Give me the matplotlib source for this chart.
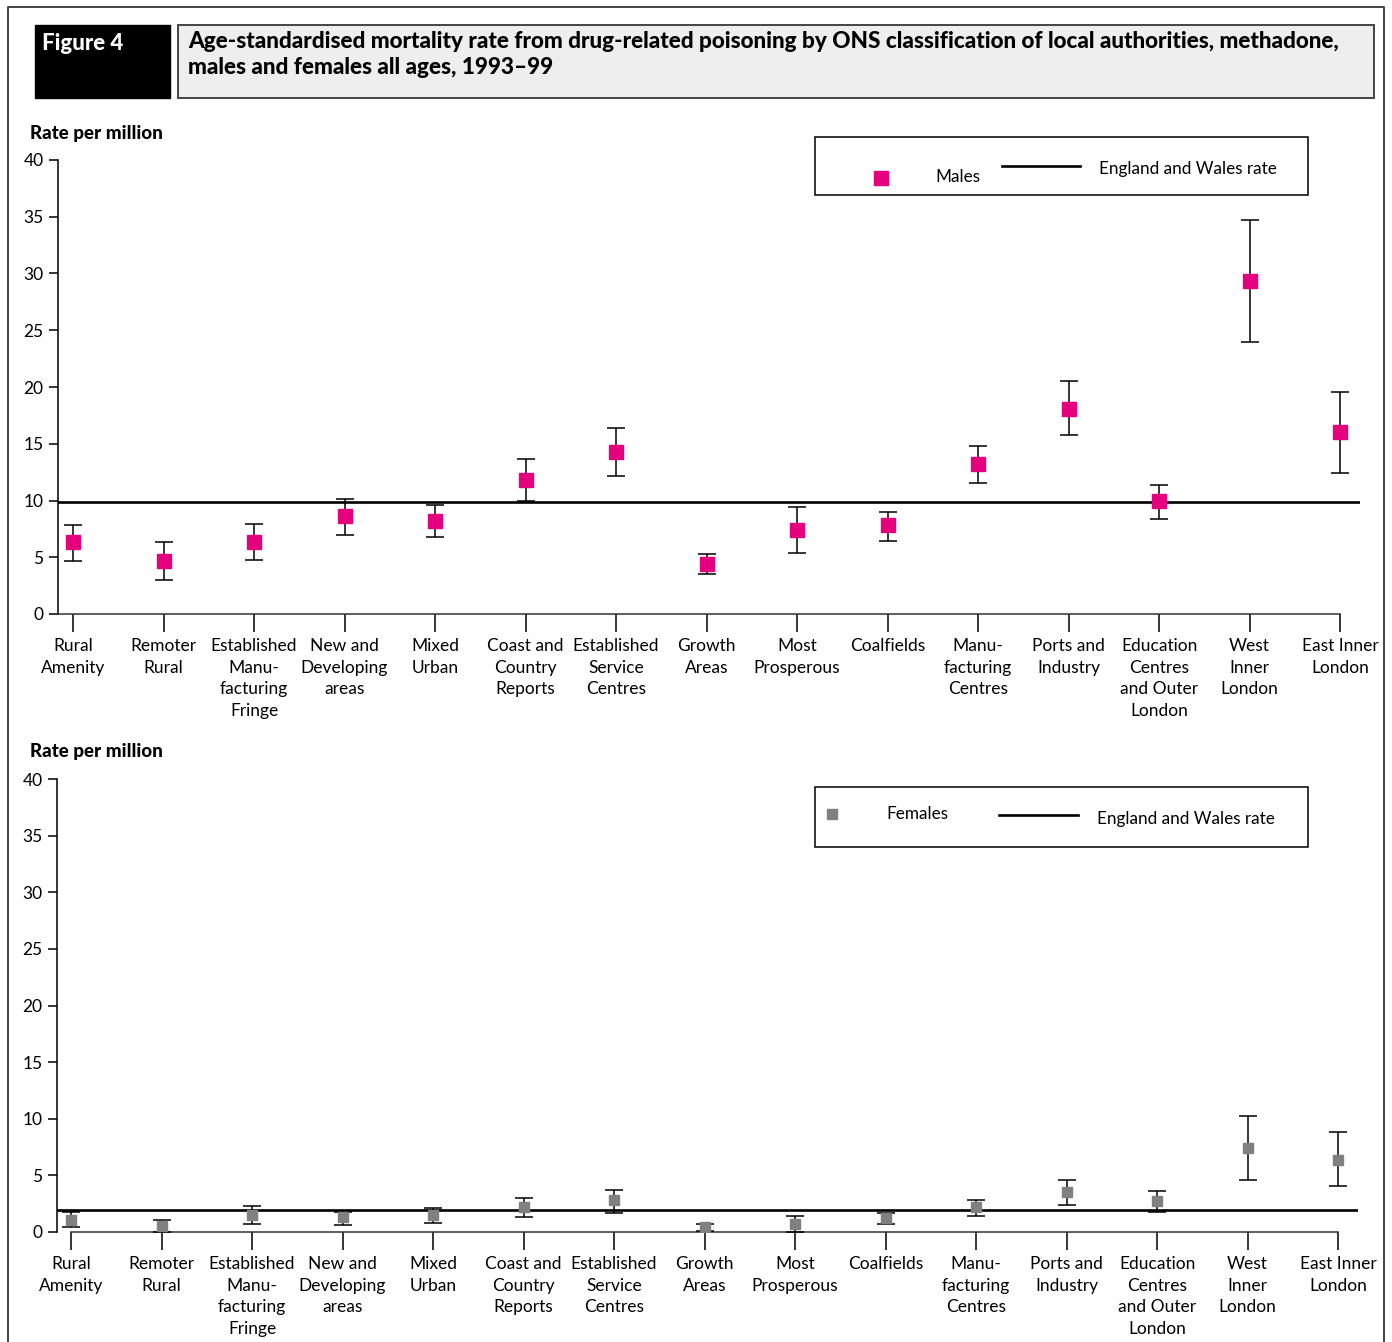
import matplotlib.pyplot as plt
from matplotlib.patches import Rectangle
from matplotlib.lines import Line2D

plt.rcParams['font.family'] = ['Lato', 'DejaVu Sans']

W, H = 1392, 1342

areas = ["Rural\nAmenity", "Remoter\nRural", "Established\nManu-\nfacturing\nFringe",
         "New and\nDeveloping\nareas", "Mixed\nUrban", "Coast and\nCountry\nReports",
         "Established\nService\nCentres", "Growth\nAreas", "Most\nProsperous",
         "Coalfields", "Manu-\nfacturing\nCentres", "Ports and\nIndustry",
         "Education\nCentres\nand Outer\nLondon", "West\nInner\nLondon", "East Inner\nLondon"]

# rates per million with 95% confidence limits
male_rate = [6.3, 4.7, 6.3, 8.6, 8.2, 11.8, 14.3, 4.4, 7.4, 7.8, 13.2, 18.1, 10.0, 29.3, 16.0]
male_low = [4.7, 3.0, 4.8, 7.0, 6.8, 10.0, 12.2, 3.5, 5.4, 6.4, 11.5, 15.8, 8.4, 24.0, 12.4]
male_high = [7.8, 6.3, 7.9, 10.1, 9.6, 13.7, 16.4, 5.3, 9.4, 9.0, 14.8, 20.5, 11.4, 34.7, 19.6]

female_rate = [1.1, 0.5, 1.5, 1.3, 1.5, 2.2, 2.8, 0.4, 0.7, 1.2, 2.2, 3.5, 2.7, 7.4, 6.4]
female_low = [0.4, 0.0, 0.7, 0.6, 0.8, 1.3, 1.7, 0.1, 0.0, 0.7, 1.4, 2.4, 1.8, 4.6, 4.1]
female_high = [1.8, 1.1, 2.3, 1.8, 2.1, 3.0, 3.7, 0.7, 1.4, 1.7, 2.8, 4.6, 3.6, 10.2, 8.8]

ew_male = 9.9
ew_female = 1.9

male_colour = "#e5007d"
female_colour = "#808080"


def px(x, y):
    return x / W, 1 - y / H


fig = plt.figure(figsize=(W / 100, H / 100), dpi=100)

# outer frame
fig.add_artist(Line2D([8 / W, 8 / W, 1384 / W, 1384 / W], [0, 1 - 7 / H, 1 - 7 / H, 0],
                      transform=fig.transFigure, color="#444444", lw=1.4))

# header boxes
fig.add_artist(Rectangle(px(35, 98), 135 / W, 73 / H, transform=fig.transFigure,
                         facecolor="black", edgecolor="black"))
fig.text(*px(42, 43), "Figure 4", color="white", fontsize=16, fontweight="black", va="center")
fig.add_artist(Rectangle(px(178, 98), 1196 / W, 73 / H, transform=fig.transFigure,
                         facecolor="#eeeeee", edgecolor="#444444", lw=1.4))
fig.text(*px(188, 31), "Age-standardised mortality rate from drug-related poisoning by ONS classification of local authorities, methadone,\nmales and females all ages, 1993\u201399",
         fontsize=16.2, fontweight="black", va="top", linespacing=1.32)


def panel(rect, xlim, rate, low, high, ew, colour, msize, full_xaxis, ylabel_y):
    ax = fig.add_axes(rect)
    xs = list(range(len(rate)))
    yerr = [[r - lo for r, lo in zip(rate, low)], [hi - r for r, hi in zip(rate, high)]]
    ax.axhline(ew, color="black", lw=1.9, zorder=1)
    ax.errorbar(xs, rate, yerr=yerr, fmt="s", color=colour, ms=msize, mec=colour,
                ecolor="black", elinewidth=1.1, capsize=6.5, capthick=1.1, zorder=3)
    ax.set_xlim(*xlim)
    ax.set_ylim(0, 40)
    ax.set_yticks(range(0, 41, 5))
    ax.set_xticks(xs)
    ax.set_xticklabels(areas, fontsize=12.5, linespacing=1.42)
    for sp in ["top", "right"]:
        ax.spines[sp].set_visible(False)
    ax.spines["left"].set_linewidth(1.1)
    ax.spines["bottom"].set_linewidth(1.1)
    ax.spines["bottom"].set_color("#333333")
    if full_xaxis:
        ax.spines["bottom"].set_bounds(xlim[0], 14)
    else:
        ax.spines["bottom"].set_bounds(0, 14)
    ax.tick_params(axis="x", length=13, width=1.1, pad=4.5, colors="black")
    ax.tick_params(axis="y", length=6.5, width=1.1, pad=4, labelsize=12.5)
    fig.text(*px(30, ylabel_y), "Rate per million", fontsize=13.5, fontweight="black", va="center")
    return ax


top = panel([58 / W, 1 - 614 / H, 1302 / W, 454 / H], (-0.166, 14.22),
            male_rate, male_low, male_high, ew_male, male_colour, 10, True, 134)

bot = panel([57 / W, 1 - 1232 / H, 1301 / W, 453 / H], (-0.155, 14.22),
            female_rate, female_low, female_high, ew_female, female_colour, 7, False, 752)

# legend boxes
fig.add_artist(Rectangle(px(815, 195), 493 / W, 58 / H, transform=fig.transFigure,
                         facecolor="white", edgecolor="black", lw=1.1))
fig.add_artist(Line2D([881 / W], [1 - 178 / H], transform=fig.transFigure, marker="s",
                      ms=10, color=male_colour, ls="none"))
fig.text(*px(935, 177), "Males", fontsize=12.3, va="center")
fig.add_artist(Line2D([1002 / W, 1080 / W], [1 - 166 / H] * 2, transform=fig.transFigure,
                      color="black", lw=1.9))
fig.text(*px(1099, 169), "England and Wales rate", fontsize=12.3, va="center")

fig.add_artist(Rectangle(px(815, 847), 493 / W, 60 / H, transform=fig.transFigure,
                         facecolor="white", edgecolor="black", lw=1.1))
fig.add_artist(Line2D([832 / W], [1 - 814 / H], transform=fig.transFigure, marker="s",
                      ms=7, color=female_colour, ls="none"))
fig.text(*px(886, 814), "Females", fontsize=12.3, va="center")
fig.add_artist(Line2D([999 / W, 1078 / W], [1 - 815 / H] * 2, transform=fig.transFigure,
                      color="black", lw=1.9))
fig.text(*px(1097, 819), "England and Wales rate", fontsize=12.3, va="center")

fig.savefig("out.png", dpi=100)
